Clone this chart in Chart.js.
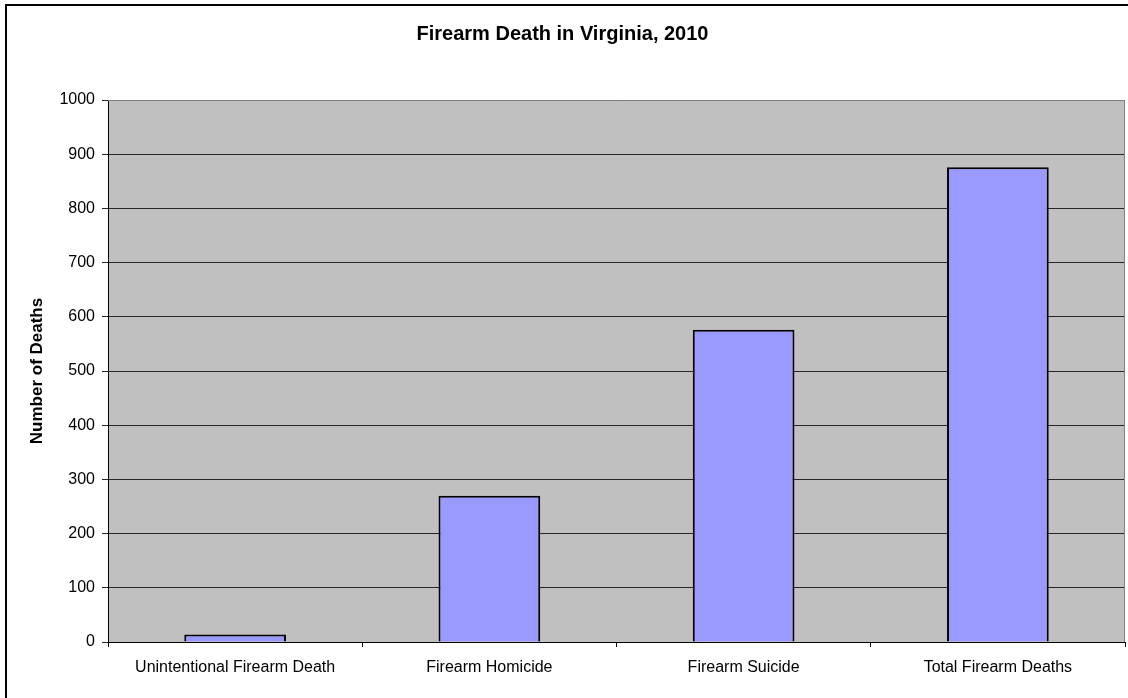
<!DOCTYPE html>
<html>
<head>
<meta charset="utf-8">
<script src="https://cdn.jsdelivr.net/npm/chart.js@4.4.1/dist/chart.umd.min.js"></script>
<style>
  html, body { margin: 0; padding: 0; background: #fff; }
  canvas { display: block; }
</style>
</head>
<body>
<canvas id="Chart_FIR" width="1128" height="698"></canvas>
<script>
// Données du graphique
const categories = ['Unintentional Firearm Death', 'Firearm Homicide', 'Firearm Suicide', 'Total Firearm Deaths'];
const deaths = [14, 270, 576, 876];
const yTicks = [0, 100, 200, 300, 400, 500, 600, 700, 800, 900, 1000];

const police = "'Liberation Sans', Arial, sans-serif";

// Fond gris de la zone de tracé + cadres
const cadrePlugin = {
    id: 'cadre',
    beforeDraw(chart) {
        const { ctx, chartArea: a } = chart;
        ctx.save();
        ctx.fillStyle = '#C0C0C0';
        ctx.fillRect(a.left, a.top, a.right - a.left, a.bottom - a.top);
        ctx.restore();
    },
    afterDraw(chart) {
        const { ctx, chartArea: a } = chart;
        ctx.save();
        // bord haut et droit de la zone de tracé
        ctx.strokeStyle = '#808080';
        ctx.lineWidth = 1;
        ctx.beginPath();
        ctx.moveTo(a.left, a.top + 0.5);
        ctx.lineTo(a.right - 0.5, a.top + 0.5);
        ctx.lineTo(a.right - 0.5, a.bottom);
        ctx.stroke();
        // cadre extérieur
        ctx.strokeStyle = '#000';
        ctx.lineWidth = 2;
        ctx.strokeRect(6, 5, 1300, 900);
        ctx.restore();
    }
};

const FirearmChart = new Chart(document.getElementById('Chart_FIR').getContext('2d'), {
    type: 'bar',
    data: {
        labels: categories,
        datasets: [{
            label: 'Number of Deaths',
            data: deaths,
            backgroundColor: '#9999FF',
            borderColor: '#000000',
            borderWidth: 2,
            barPercentage: 0.4,
            categoryPercentage: 1.0
        }]
    },
    options: {
        responsive: false,
        devicePixelRatio: 1,
        animation: false,
        layout: {
            padding: { left: 0, right: 3, top: 0, bottom: 0 }
        },
        plugins: {
            legend: { display: false },
            tooltip: { enabled: false },
            title: {
                display: true,
                text: 'Firearm Death in Virginia, 2010',
                color: '#000',
                font: { family: police, size: 20, weight: 'bold', lineHeight: 1.2 },
                padding: { top: 22.5, bottom: 53.5 }
            }
        },
        scales: {
            x: {
                grid: {
                    display: true,
                    drawOnChartArea: false,
                    drawTicks: true,
                    tickLength: 5,
                    color: '#000',
                    offset: true
                },
                border: { display: true, color: '#000', width: 1 },
                ticks: {
                    color: '#000',
                    padding: 11,
                    maxRotation: 0,
                    font: { family: police, size: 16 }
                },
                afterFit(scale) { scale.height = 56; }
            },
            y: {
                min: 0,
                max: 1000,
                afterBuildTicks(scale) {
                    scale.ticks = yTicks.map(v => ({ value: v }));
                },
                grid: {
                    color: '#262626',
                    lineWidth: 1,
                    tickLength: 6,
                    drawTicks: true
                },
                border: { display: true, color: '#000', width: 1 },
                ticks: {
                    color: '#000',
                    padding: 7,
                    font: { family: police, size: 16 },
                    callback: v => String(v)
                },
                title: {
                    display: true,
                    text: 'Number of Deaths',
                    color: '#000',
                    font: { family: police, size: 17, weight: 'bold', lineHeight: 1.2 },
                    padding: { top: 27, bottom: 0 }
                },
                afterFit(scale) { scale.width = 108; }
            }
        }
    },
    plugins: [cadrePlugin]
});
</script>
</body>
</html>
